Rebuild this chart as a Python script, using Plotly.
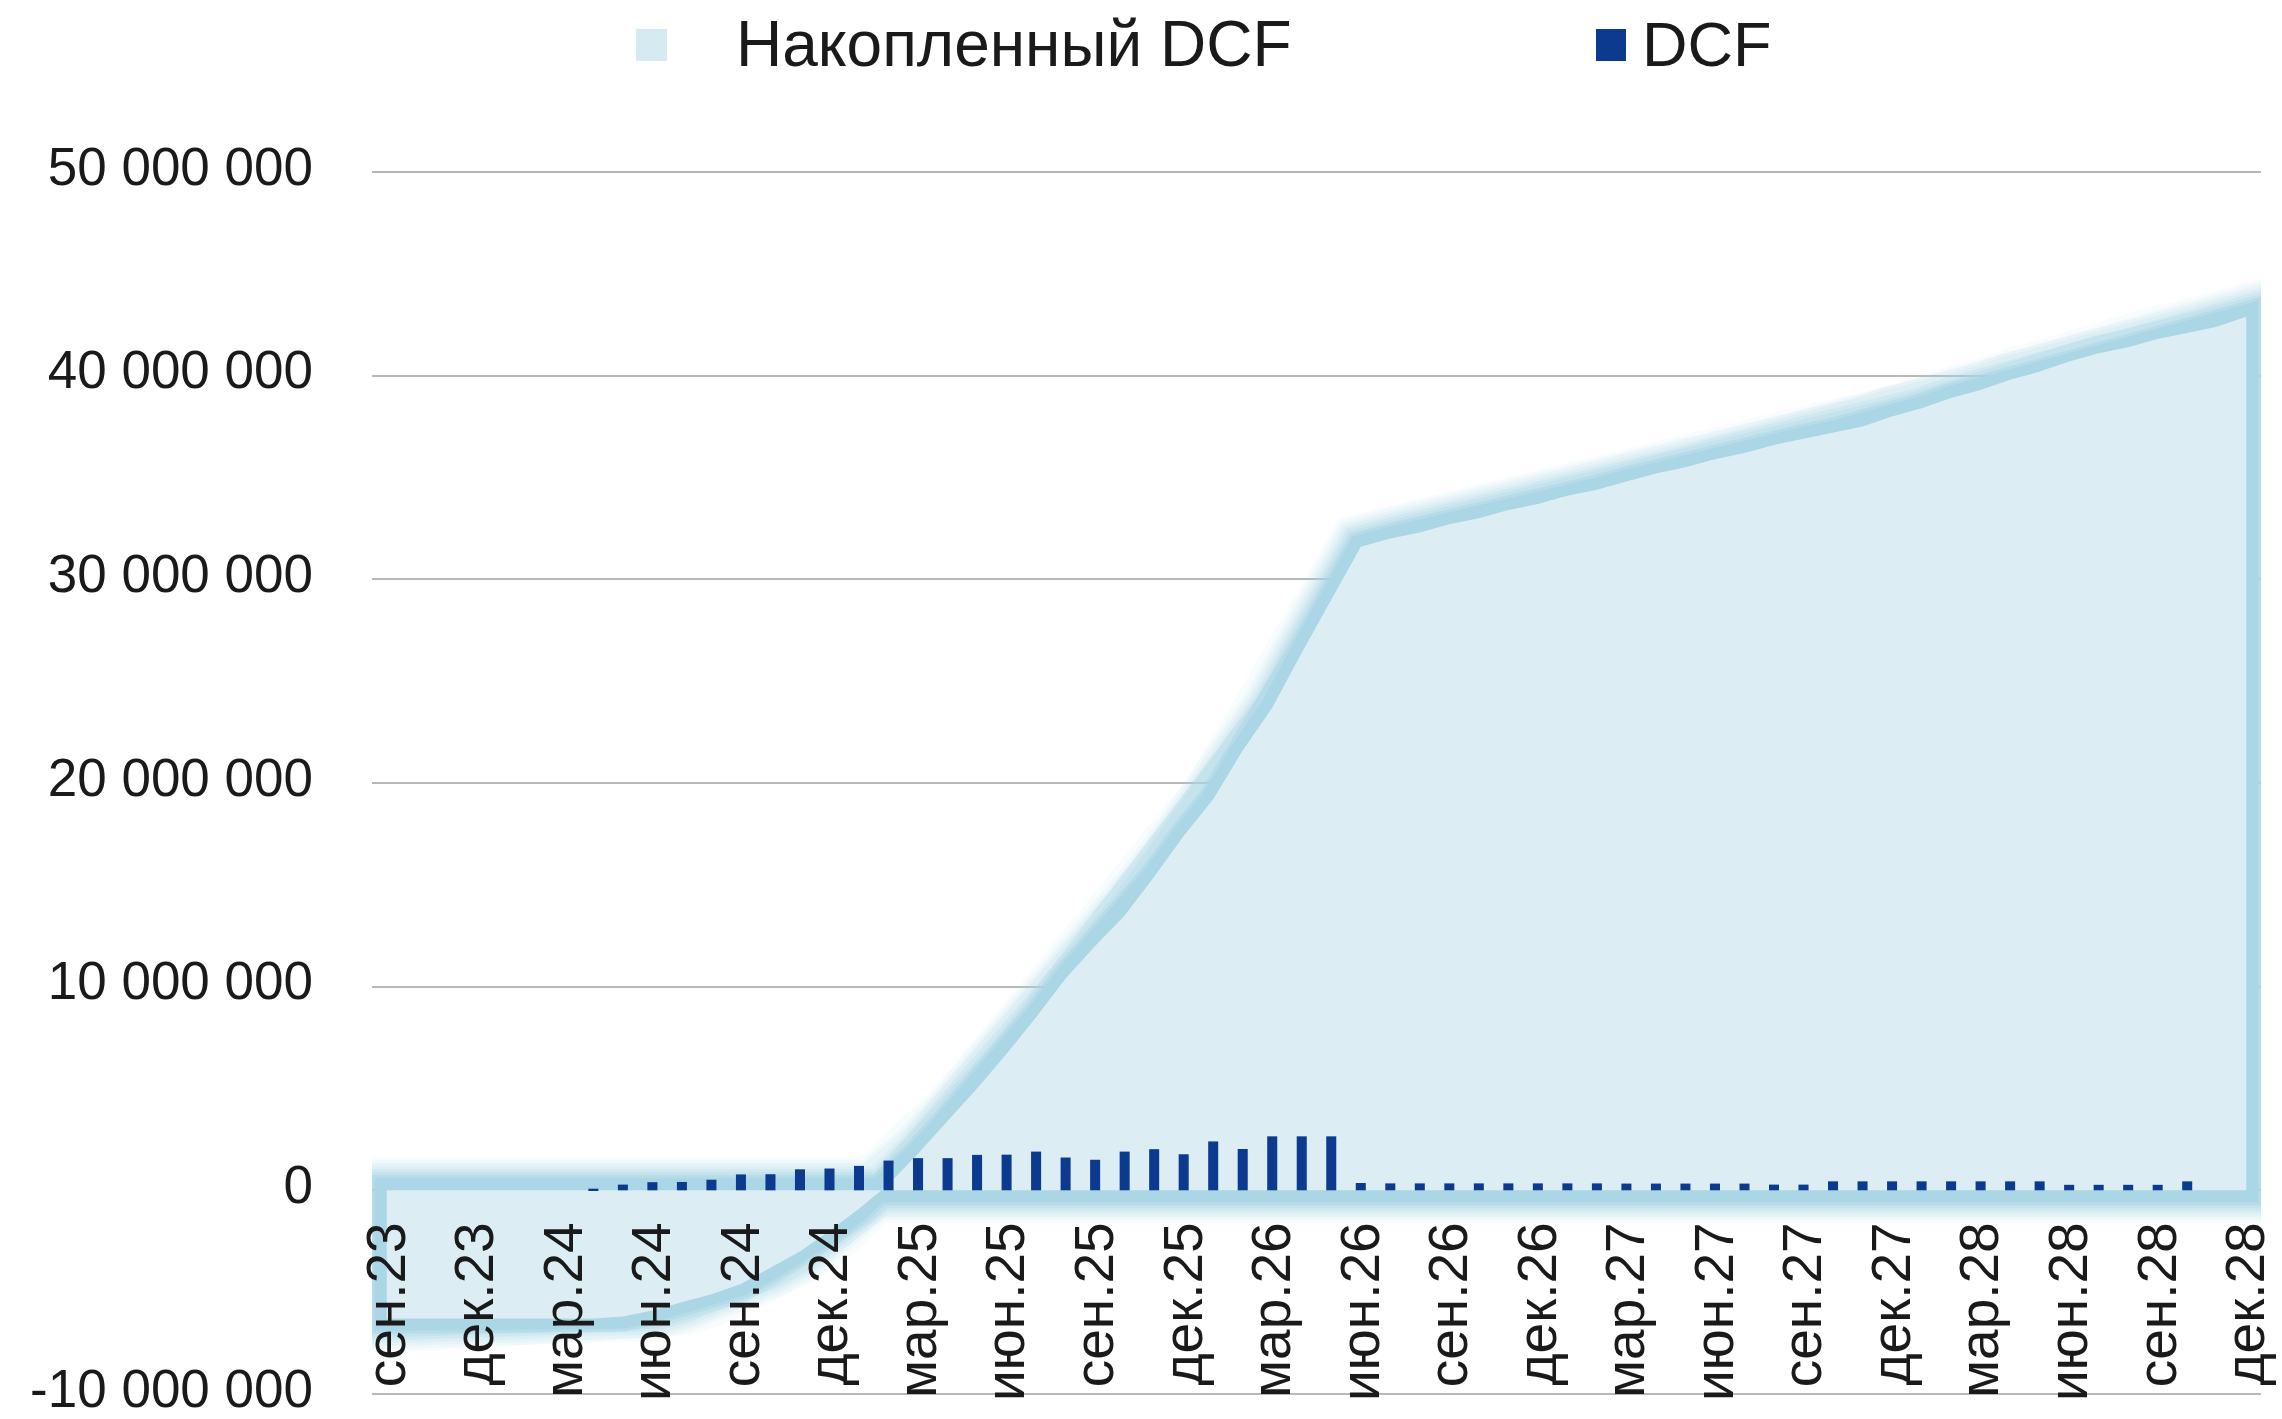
import plotly.graph_objects as go

# ---------------- data ----------------
month_names = ["янв", "фев", "мар", "апр", "май", "июн", "июл", "авг", "сен", "окт", "ноя", "дек"]
start_year, start_month = 2023, 9
n_periods = 64
categories = []
for k in range(n_periods):
    m = (start_month - 1 + k) % 12
    y = start_year + (start_month - 1 + k) // 12
    categories.append(f"{month_names[m]}.{str(y)[2:]}")

# monthly discounted cash flow (DCF)
dcf = [None, None, None, None, None, None, None,
       80000, 280000, 400000, 410000, 520000, 780000, 790000, 1030000,
       1070000, 1200000, 1460000, 1580000, 1580000, 1740000, 1750000, 1900000,
       1610000, 1500000, 1900000, 2020000, 1770000, 2400000, 2030000,
       2650000, 2650000, 2650000,
       360000, 340000, 340000, 340000, 340000, 340000, 340000, 340000, 340000,
       330000, 330000, 330000, 330000, 330000, 280000, 280000,
       440000, 440000, 440000, 440000, 440000, 440000, 440000, 440000,
       270000, 270000, 270000, 270000, 440000, None]

# accumulated DCF
cum_dcf = [-6300000, -6300000, -6300000, -6300000, -6300000, -6300000, -6300000, -6300000,
           -6200000, -5900000, -5500000, -5100000, -4600000, -3800000, -3000000, -2000000,
           -900000, 300000, 1800000, 3400000, 5000000, 6700000, 8500000, 10400000,
           12000000, 13500000, 15400000, 17400000, 19200000, 21600000, 23700000, 26400000,
           29000000, 31600000, 32000000, 32300000, 32700000, 33000000, 33400000, 33700000,
           34100000, 34400000, 34800000, 35200000, 35500000, 35900000, 36200000, 36600000,
           36900000, 37200000, 37500000, 38000000, 38400000, 38900000, 39300000, 39800000,
           40200000, 40700000, 41100000, 41400000, 41800000, 42100000, 42400000, 42900000]

x_tick_labels = categories[::3]
y_tick_values = [-10000000, 0, 10000000, 20000000, 30000000, 40000000, 50000000]
y_tick_labels = ["-10 000 000", "0", "10 000 000", "20 000 000", "30 000 000", "40 000 000", "50 000 000"]
series_names = ["Накопленный DCF", "DCF"]

# ---------------- styling ----------------
W, H = 2282, 1419
ML, MR, MT, MB = 372, 21, 170, 23
PAD_V = 100000  # tiny range padding so the edge gridlines are kept
FONT = "Arial, 'Liberation Sans', sans-serif"
TEXT = "#1A1A1A"
AREA_FILL = "#DCEEF4"
BAR_COLOR = "#0B3A8F"
GRID = "#B8B8B8"

plot_w = W - ML - MR
plot_h = H - MT - MB
y_range = [y_tick_values[0] - PAD_V, y_tick_values[-1] + PAD_V]
x_range = [-0.5, n_periods - 0.5]


def px2x(px):
    return (px - ML) / plot_w


def px2y(py):
    return (H - MB - py) / plot_h


fig = go.Figure()

# soft glow around the accumulated area outline (drawn underneath the fill)
outline_x = [categories[0]] + categories + [categories[-1], categories[0], categories[0]]
outline_y = [0] + cum_dcf + [0, 0, cum_dcf[0]]
glow_layers = [(66, 0.08), (60, 0.10), (54, 0.13), (48, 0.17), (42, 0.22),
               (36, 0.32), (30, 0.5), (24, 1.0)]
for width, alpha in glow_layers:
    fig.add_trace(go.Scatter(x=outline_x, y=outline_y, mode="lines",
                             line=dict(color=f"rgba(170,214,229,{alpha})", width=width),
                             hoverinfo="skip", showlegend=False))

# accumulated DCF area
fig.add_trace(go.Scatter(x=categories, y=cum_dcf, mode="lines", fill="tozeroy",
                         fillcolor=AREA_FILL, line=dict(width=0, color=AREA_FILL),
                         name=series_names[0], showlegend=False))

# DCF bars (on an overlaid copy of the axes so they sit above the area)
fig.add_trace(go.Bar(x=categories, y=dcf, xaxis="x2", yaxis="y2",
                     marker=dict(color=BAR_COLOR, line=dict(width=0)),
                     width=0.34, name=series_names[1], showlegend=False))

# legend (drawn manually to match the original look)
fig.add_shape(type="rect", xref="paper", yref="paper",
              x0=px2x(636), x1=px2x(667), y0=px2y(61), y1=px2y(29),
              fillcolor="#D5EAF1", line=dict(width=0))
fig.add_shape(type="rect", xref="paper", yref="paper",
              x0=px2x(1596), x1=px2x(1626), y0=px2y(61), y1=px2y(29),
              fillcolor=BAR_COLOR, line=dict(width=0))
fig.add_annotation(text=series_names[0], xref="paper", yref="paper",
                   x=px2x(734), y=px2y(44), xanchor="left", yanchor="middle",
                   showarrow=False, font=dict(family=FONT, size=64, color=TEXT))
fig.add_annotation(text=series_names[1], xref="paper", yref="paper",
                   x=px2x(1640), y=px2y(44), xanchor="left", yanchor="middle",
                   showarrow=False, font=dict(family=FONT, size=63, color=TEXT))

fig.update_layout(
    width=W, height=H,
    margin=dict(l=ML, r=MR, t=MT, b=MB, pad=0),
    paper_bgcolor="white", plot_bgcolor="white",
    font=dict(family=FONT, color=TEXT),
    showlegend=False,
    xaxis=dict(
        type="category", categoryorder="array", categoryarray=categories,
        range=x_range,
        tickmode="array", tickvals=x_tick_labels, ticktext=x_tick_labels,
        tickangle=-90, tickfont=dict(family=FONT, size=55, color=TEXT),
        showgrid=False, showline=False, zeroline=False, ticks="",
        anchor="free", position=(0 - y_range[0]) / (y_range[1] - y_range[0]),
        ticklabelstandoff=20, automargin=False, ticklabeloverflow="allow",
    ),
    yaxis=dict(
        range=y_range,
        tickmode="array", tickvals=y_tick_values, ticktext=y_tick_labels,
        tickfont=dict(family=FONT, size=53, color=TEXT),
        showgrid=True, gridcolor=GRID, gridwidth=2,
        zeroline=True, zerolinecolor=GRID, zerolinewidth=2,
        showline=False, ticks="", ticklabelstandoff=58, automargin=False,
        ticklabeloverflow="allow", ticklabelshift=-6,
    ),
    xaxis2=dict(
        type="category", categoryorder="array", categoryarray=categories,
        range=x_range, overlaying="x", anchor="y2", visible=False,
    ),
    yaxis2=dict(range=y_range, overlaying="y", anchor="x2", visible=False),
)

fig.write_html("out.html", config={"displayModeBar": False},
               post_script="document.body.style.margin='0px';")
